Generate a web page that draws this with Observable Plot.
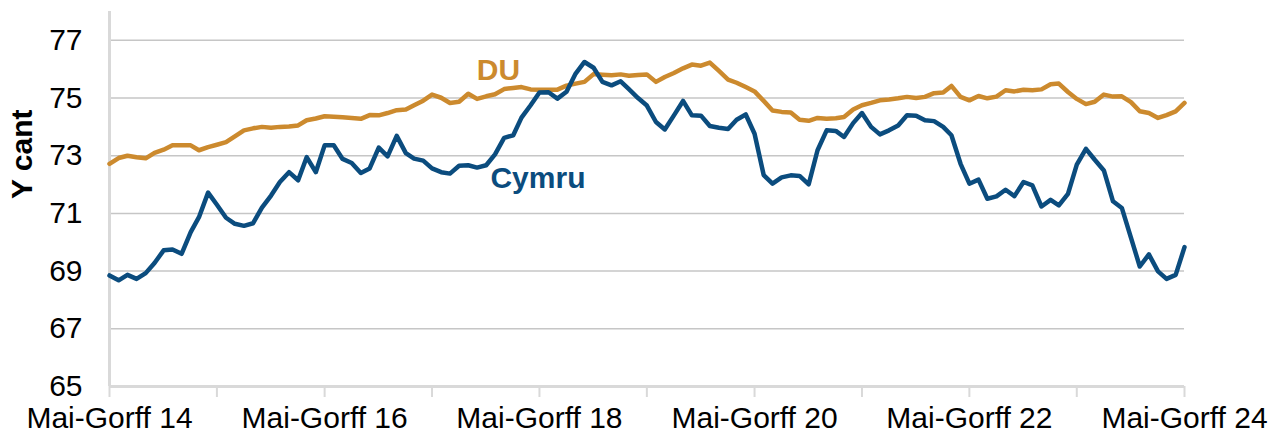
<!DOCTYPE html>
<html>
<head>
<meta charset="utf-8">
<script src="https://cdn.jsdelivr.net/npm/d3@7"></script>
<script src="https://cdn.jsdelivr.net/npm/@observablehq/plot@0.6"></script>
<style>
  html, body { margin: 0; padding: 0; background: #fff; }
  #chart { width: 1278px; height: 436px; }
</style>
</head>
<body>
<div id="chart"></div>
<script>
// ---- Data (monthly rolling periods, starting Mai-Gorff 2014) ----
const startYear = 2014, startMonth = 4; // May
const seriesNames = ["DU", "Cymru"];
const duValues = [
  72.72, 72.92, 73.00, 72.95, 72.91, 73.10, 73.21, 73.36, 73.36, 73.36,
  73.19, 73.30, 73.38, 73.47, 73.67, 73.88, 73.95, 74.00, 73.97, 74.00,
  74.01, 74.05, 74.23, 74.29, 74.37, 74.35, 74.33, 74.31, 74.28, 74.41,
  74.40, 74.48, 74.58, 74.60, 74.75, 74.91, 75.12, 75.01, 74.83, 74.87,
  75.15, 74.97, 75.06, 75.13, 75.31, 75.35, 75.38, 75.30, 75.29, 75.29,
  75.29, 75.43, 75.50, 75.56, 75.83, 75.81, 75.79, 75.82, 75.77, 75.80,
  75.82, 75.56, 75.73, 75.87, 76.03, 76.16, 76.12, 76.23, 75.94, 75.64,
  75.53, 75.38, 75.23, 74.90, 74.57, 74.52, 74.50, 74.25, 74.21, 74.31,
  74.28, 74.30, 74.34, 74.60, 74.75, 74.83, 74.92, 74.95, 74.99, 75.04,
  75.00, 75.04, 75.17, 75.19, 75.42, 75.04, 74.92, 75.07, 74.99, 75.05,
  75.27, 75.23, 75.29, 75.27, 75.30, 75.48, 75.50, 75.21, 74.97, 74.79,
  74.87, 75.12, 75.05, 75.06, 74.86, 74.54, 74.48, 74.31, 74.41, 74.54,
  74.83
];
const cymruValues = [
  68.85, 68.68, 68.87, 68.73, 68.93, 69.28, 69.72, 69.75, 69.60, 70.35,
  70.87, 71.72, 71.30, 70.85, 70.64, 70.57, 70.66, 71.20, 71.62, 72.09,
  72.43, 72.15, 72.95, 72.43, 73.36, 73.36, 72.89, 72.75, 72.40, 72.56,
  73.28, 72.98, 73.69, 73.09, 72.90, 72.83, 72.56, 72.43, 72.38, 72.65,
  72.67, 72.59, 72.67, 73.05, 73.62, 73.71, 74.32, 74.75, 75.19, 75.20,
  74.98, 75.22, 75.85, 76.25, 76.05, 75.56, 75.44, 75.58, 75.31, 75.00,
  74.74, 74.17, 73.91, 74.40, 74.90, 74.40, 74.39, 74.03, 73.97, 73.93,
  74.25, 74.43, 73.76, 72.33, 72.03, 72.25, 72.32, 72.30, 72.01, 73.19,
  73.88, 73.86, 73.65, 74.13, 74.48, 74.00, 73.74, 73.88, 74.05, 74.40,
  74.39, 74.23, 74.20, 74.00, 73.71, 72.72, 72.03, 72.17, 71.51, 71.59,
  71.82, 71.60, 72.09, 71.97, 71.24, 71.47, 71.28, 71.68, 72.69, 73.24,
  72.86, 72.49, 71.42, 71.19, 70.16, 69.16, 69.58, 68.99, 68.73, 68.87,
  69.83
];
const yTicks = [65, 67, 69, 71, 73, 75, 77];
const xTickYears = [2014, 2015, 2016, 2017, 2018, 2019, 2020, 2021, 2022, 2023, 2024];
const xLabelPrefix = "Mai-Gorff ";
const yLabel = "Y cant";
const lineLabels = [
  {name: "DU", date: new Date(Date.UTC(2017, 11, 13)), value: 75.96},
  {name: "Cymru", date: new Date(Date.UTC(2018, 3, 26)), value: 72.21}
];
const colors = {"DU": "#CC8A2E", "Cymru": "#0B4C7E"};

// ---- Build table ----
const monthDate = i => new Date(Date.UTC(startYear, startMonth + i, 1));
const rows = [];
duValues.forEach((v, i) => rows.push({series: "DU", date: monthDate(i), value: v}));
cymruValues.forEach((v, i) => rows.push({series: "Cymru", date: monthDate(i), value: v}));
const tickDates = xTickYears.map(y => new Date(Date.UTC(y, startMonth, 1)));
const xDomain = [monthDate(0), monthDate(duValues.length - 1)];

const font = "'Liberation Sans', Arial, Helvetica, sans-serif";

const chart = Plot.plot({
  width: 1278,
  height: 436,
  marginLeft: 109,
  marginRight: 94,
  marginTop: 11,
  marginBottom: 50,
  style: {fontFamily: font, fontSize: "30px", background: "#fff", color: "#000"},
  x: {type: "utc", domain: xDomain},
  y: {domain: [65, 78], label: null},
  marks: [
    Plot.gridY(yTicks, {stroke: "#c6c6c6", strokeOpacity: 1, strokeWidth: 1.5}),
    Plot.ruleX([xDomain[0]], {stroke: "#d9d9d9", strokeWidth: 3}),
    Plot.ruleY([65], {stroke: "#d9d9d9", strokeWidth: 3}),
    Plot.axisY({ticks: yTicks, tickSize: 0, tickPadding: 27, fontSize: 30, fill: "#000", label: null}),
    Plot.axisX({
      ticks: tickDates, tickSize: 11, tickPadding: 9, fontSize: 30,
      stroke: "#d9d9d9", strokeWidth: 2, fill: "#000", label: null,
      tickFormat: d => (d.getUTCFullYear() % 2 === 0 ? xLabelPrefix + String(d.getUTCFullYear()).slice(2) : "")
    }),
    Plot.text([yLabel], {frameAnchor: "left", dx: -87, rotate: -90, text: d => d, fontSize: 30, fontWeight: "bold", fill: "#000"}),
    Plot.line(rows, {x: "date", y: "value", z: "series", stroke: d => colors[d.series], strokeWidth: 4.5, strokeLinejoin: "round", strokeLinecap: "round"}),
    Plot.text(lineLabels, {x: "date", y: "value", text: "name", fill: d => colors[d.name], fontSize: 30, fontWeight: "bold"})
  ]
});
document.getElementById("chart").appendChild(chart);
</script>
</body>
</html>
